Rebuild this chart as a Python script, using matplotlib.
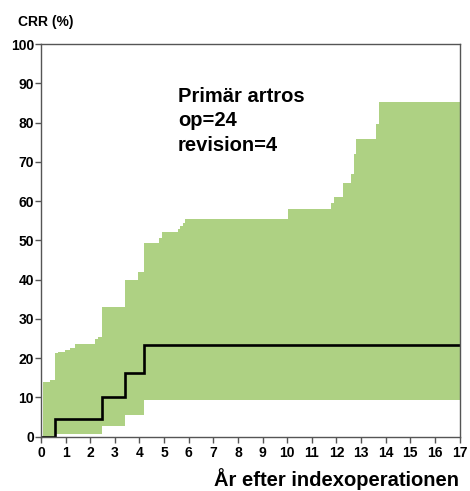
import matplotlib
matplotlib.use("Agg")
import matplotlib.pyplot as plt

plt.rcParams['font.family'] = ['Liberation Sans', 'DejaVu Sans']

# Upper confidence band (step, post)
upper_x = [0.08, 0.38, 0.55, 0.71, 0.99, 1.19, 1.39, 2.20, 2.31, 2.49, 3.40, 3.96,
           4.17, 4.81, 4.90, 5.58, 5.65, 5.76, 5.85, 10.05, 11.80, 11.90, 12.27,
           12.61, 12.70, 12.79, 13.62, 13.73, 17.0]
upper_y = [14.0, 14.5, 21.2, 21.6, 22.1, 22.6, 23.7, 24.8, 25.5, 33.1, 39.8, 42.0,
           49.4, 50.6, 52.2, 52.9, 53.6, 54.5, 55.5, 58.0, 59.6, 61.0, 64.5,
           66.8, 71.9, 75.9, 79.6, 85.3, 85.3]
# Lower confidence band
lower_x = [0.08, 0.55, 2.49, 3.40, 4.17, 17.0]
lower_y = [0.0, 0.7, 2.7, 5.4, 9.4, 9.4]
# Cumulative revision rate
crr_x = [0.0, 0.55, 2.49, 3.40, 4.17, 17.0]
crr_y = [0.0, 4.4, 10.2, 16.3, 23.3, 23.3]

x_ticks = list(range(0, 18))
y_ticks = list(range(0, 101, 10))
title_text = "Primär artros\nop=24\nrevision=4"
ylabel_text = "CRR (%)"
xlabel_text = "År efter indexoperationen"

fig = plt.figure(figsize=(4.70, 4.91), dpi=100)
ax = fig.add_axes([41/470, 1-436.7/491, (459.5-41)/470, (436.7-44)/491])

# merge breakpoints for fill
xs = sorted(set(upper_x) | set(lower_x))
def stepval(bx, by, x):
    v = by[0]
    for a, b in zip(bx, by):
        if a <= x:
            v = b
    return v
up = [stepval(upper_x, upper_y, x) for x in xs]
lo = [stepval(lower_x, lower_y, x) for x in xs]
ax.fill_between(xs, lo, up, step='post', color='#aed183', linewidth=0)

ax.step(crr_x, crr_y, where='post', color='black', linewidth=1.9, solid_joinstyle='miter')

ax.set_xlim(0, 17)
ax.set_ylim(0, 100)
ax.set_xticks(x_ticks)
ax.set_yticks(y_ticks)
ax.set_xticklabels([str(t) for t in x_ticks], fontsize=10, fontweight='bold')
ax.set_yticklabels([str(t) for t in y_ticks], fontsize=10, fontweight='bold')
for s in ax.spines.values():
    s.set_color('#555555')
    s.set_linewidth(1.0)
ax.tick_params(axis='both', direction='out', length=4, width=1, color='#555555')
ax.tick_params(axis='y', pad=1)
ax.tick_params(axis='x', pad=3)

ax.text(5.57, 72.8, title_text, fontsize=14.5, fontweight='bold', va='baseline',
        ha='left', linespacing=1.36)
fig.text(18/470, 1-26/491, ylabel_text, fontsize=10, fontweight='bold', va='baseline', ha='left')
fig.text(459/470, 1-486/491, xlabel_text, fontsize=14.5, fontweight='bold', va='baseline', ha='right')

fig.savefig("out.png", dpi=100)
